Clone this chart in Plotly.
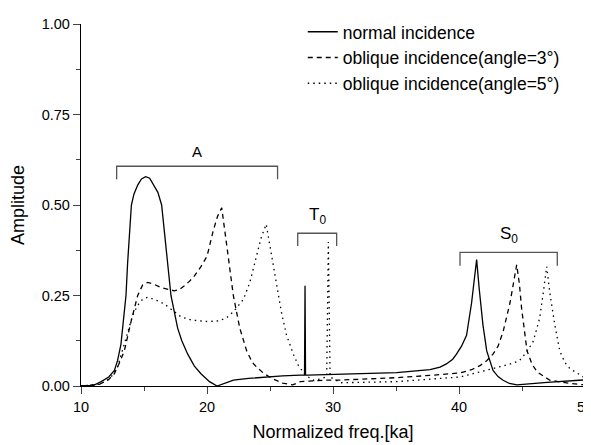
import plotly.graph_objects as go

# ---- data ----
normal_x = [10, 11, 11.6, 12.2, 12.65, 12.9, 13.17, 13.37, 13.57, 13.7, 14.0, 14.2, 14.5, 14.8, 15.13, 15.45,
            15.8, 16.1, 16.4, 16.88, 17.14, 17.67, 18.0, 18.47, 19.0, 19.52, 20.2, 20.8, 21.5, 22.1, 23.3,
            24.7, 26.0, 27.4, 27.74, 27.78, 27.82, 28.0, 30.6, 35.05, 37.7, 38.5, 39.0, 39.5, 39.8, 40.2,
            40.6, 41.0, 41.2, 41.4, 41.6, 41.9, 42.2, 42.7, 43.1, 43.5, 44.0, 44.6, 47.0, 50]
normal_y = [0, 0.002, 0.012, 0.025, 0.043, 0.07, 0.115, 0.175, 0.25, 0.34, 0.50, 0.53, 0.555, 0.572, 0.578, 0.574,
            0.555, 0.535, 0.50, 0.34, 0.25, 0.16, 0.125, 0.088, 0.055, 0.034, 0.012, 0.0, 0.009, 0.016, 0.021,
            0.025, 0.028, 0.03, 0.03, 0.277, 0.03, 0.03, 0.032, 0.037, 0.045, 0.052, 0.061, 0.074, 0.088, 0.11,
            0.14, 0.23, 0.29, 0.349, 0.27, 0.169, 0.097, 0.043, 0.026, 0.016, 0.007, 0.003, 0.01, 0.017]

oblique3_x = [10, 11.5, 12.2, 12.65, 13.0, 13.44, 13.97, 14.5, 14.9, 15.29, 15.8, 16.35, 17.4, 17.8, 18.2, 18.6,
              19.0, 19.52, 20.0, 20.5, 20.85, 21.17, 21.6, 22.09, 22.6, 23.15, 23.6, 24.0, 24.5, 25.2, 26.0,
              26.8, 27.4, 28.5, 29.5, 30.3, 35.05, 38.0, 40.08, 41.0, 41.7, 42.2, 42.7, 43.1, 43.5, 44.05,
              44.3, 44.58, 44.8, 44.97, 45.4, 45.8, 46.2, 47.2, 48.8, 49.85, 50]
oblique3_y = [0, 0.005, 0.018, 0.034, 0.06, 0.097, 0.178, 0.25, 0.28, 0.286, 0.281, 0.272, 0.263, 0.266, 0.277, 0.289,
              0.304, 0.33, 0.358, 0.43, 0.47, 0.492, 0.38, 0.25, 0.16, 0.097, 0.065, 0.05, 0.035, 0.02, 0.008,
              0.003, 0.012, 0.015, 0.016, 0.016, 0.023, 0.03, 0.036, 0.045, 0.057, 0.07, 0.088, 0.11, 0.15, 0.23,
              0.28, 0.335, 0.28, 0.214, 0.097, 0.06, 0.039, 0.016, 0.007, 0.003, 0.003]

oblique5_x = [10, 11.5, 12.3, 12.9, 13.3, 13.7, 14.1, 14.5, 14.9, 15.29, 15.9, 16.6, 17.3, 17.94, 18.8, 20.05,
              21.0, 21.6, 22.1, 22.9, 23.4, 23.9, 24.3, 24.7, 25.1, 25.5, 25.9, 26.3, 26.85, 27.25, 27.8,
              28.5, 29.5, 29.63, 29.77, 30.6, 35.0, 40.1, 42.7, 44.0, 44.8, 45.4, 45.9, 46.4, 46.7, 46.96,
              47.2, 47.6, 48.0, 48.4, 48.8, 49.87, 50]
oblique5_y = [0, 0.005, 0.02, 0.052, 0.1, 0.151, 0.195, 0.223, 0.24, 0.245, 0.238, 0.227, 0.208, 0.191, 0.182, 0.178,
              0.18, 0.19, 0.205, 0.24, 0.286, 0.358, 0.41, 0.447, 0.367, 0.277, 0.205, 0.142, 0.088, 0.057, 0.03,
              0.015, 0.025, 0.398, 0.025, 0.009, 0.012, 0.025, 0.048, 0.06, 0.07, 0.095, 0.124, 0.187, 0.26, 0.33,
              0.26, 0.169, 0.097, 0.065, 0.048, 0.025, 0.022]

series_names = ["normal incidence",
                "oblique incidence(angle=3°)",
                "oblique incidence(angle=5°)"]

# mode groups: label, x-start, x-end, bracket top, bracket foot
group_labels = ["A", "T<sub>0</sub>", "S<sub>0</sub>"]
group_x0 = [12.83, 27.2, 40.08]
group_x1 = [25.6, 30.29, 47.8]
group_top = [0.607, 0.422, 0.369]
group_foot = [0.571, 0.387, 0.332]
group_font = [15, 17, 17]

x_ticks = [10, 20, 30, 40, 50]
y_ticks = [0, 0.25, 0.5, 0.75, 1.0]
y_tick_labels = ["0.00", "0.25", "0.50", "0.75", "1.00"]

FONT = "Arial, Liberation Sans, sans-serif"

fig = go.Figure()
styles = ["solid", "5px,4px", "1.5px,4px"]
for i, (xs, ys) in enumerate([(normal_x, normal_y), (oblique3_x, oblique3_y), (oblique5_x, oblique5_y)]):
    fig.add_trace(go.Scatter(
        x=xs, y=ys, mode="lines", name=series_names[i], legendgroup=f"g{i}",
        line=dict(color="black", width=1.3, shape="linear", dash=styles[i]),
    ))

for lab, x0, x1, top, foot, fs in zip(group_labels, group_x0, group_x1, group_top, group_foot, group_font):
    fig.add_shape(type="path",
                  path=f"M {x0},{foot} L {x0},{top} L {x1},{top} L {x1},{foot}",
                  xref="x", yref="y", line=dict(color="#555555", width=1.3))
    fig.add_annotation(x=(x0 + x1) / 2, y=top, xref="x", yref="y", text=lab, showarrow=False,
                       yanchor="bottom", yshift=4, font=dict(family=FONT, size=fs, color="black"))

fig.update_layout(
    width=583, height=437,
    margin=dict(l=73, r=6, t=7, b=59),
    paper_bgcolor="white", plot_bgcolor="white",
    font=dict(family=FONT, size=18, color="black"),
    showlegend=True,
    legend=dict(x=0.44, y=1.028, xanchor="left", yanchor="top", bgcolor="rgba(0,0,0,0)",
                tracegroupgap=0, font=dict(family=FONT, size=17.5, color="black")),
    xaxis=dict(range=[10, 50], tickvals=x_ticks, ticks="outside", ticklen=7, tickwidth=1.3,
               showline=True, linecolor="black", linewidth=1.3, showgrid=False, zeroline=False,
               automargin=False, ticklabeloverflow="allow",
               minor=dict(ticks="outside", ticklen=4, tickwidth=1.3, dtick=5, tick0=10, showgrid=False),
               title=dict(text="Normalized freq.[ka]", font=dict(family=FONT, size=18), standoff=11),
               tickfont=dict(family=FONT, size=14.5)),
    yaxis=dict(range=[0, 1], tickvals=y_ticks, ticktext=y_tick_labels, ticks="outside", ticklen=7,
               tickwidth=1.3, showline=True, linecolor="black", linewidth=1.3, showgrid=False,
               zeroline=False, automargin=False,
               minor=dict(ticks="outside", ticklen=4, tickwidth=1.3, dtick=0.125, tick0=0, showgrid=False),
               title=dict(text="Amplitude", font=dict(family=FONT, size=18), standoff=16),
               tickfont=dict(family=FONT, size=14.5)),
)

fig.write_html("out.html")
